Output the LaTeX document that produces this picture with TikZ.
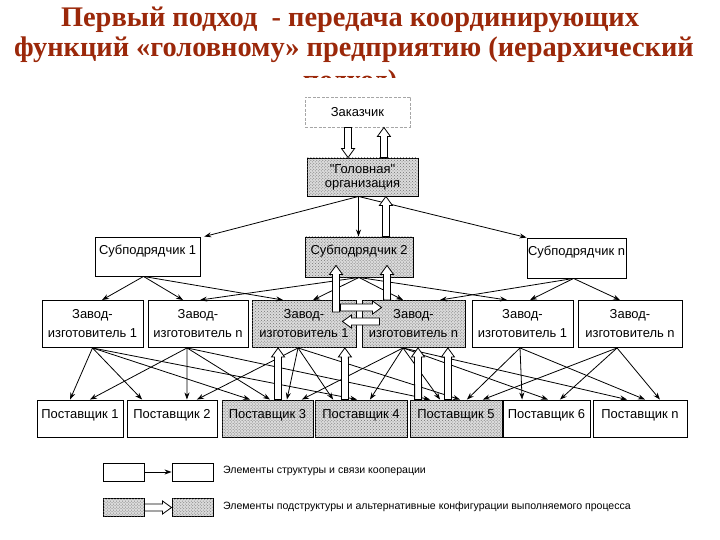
\documentclass[tikz,border=0pt]{standalone}
\usepackage{fontspec}
\setmainfont{Liberation Serif}
\newfontfamily\boxfont{Liberation Sans}
\usetikzlibrary{calc,patterns,arrows.meta}
\definecolor{titlered}{RGB}{155,40,10}
\begin{document}
\begin{tikzpicture}[x=1bp,y=-1bp,
  title/.style={anchor=base, inner sep=0, text=titlered, font=\bfseries\fontsize{28.5}{30}\selectfont},
  box/.style={draw, line width=0.9bp, inner sep=1bp, align=center, fill=white,
    font=\boxfont\fontsize{13}{19}\selectfont},
  dotbox/.style={box, fill=gray!28, postaction={pattern=crosshatch dots, pattern color=black!55}},
  subtext/.style={text height=9.5bp, text depth=14bp},
  ptext/.style={text height=9.5bp, text depth=9bp},
  zavbox/.style={minimum height=47bp},
  supbox/.style={minimum height=37bp},
  legbox/.style={minimum width=41bp, minimum height=18bp},
  arr/.style={-{Stealth[length=7bp,width=5bp]}, line width=0.8bp},
  hollow/.style={draw, fill=white, line width=0.8bp, to path={
    let \p1=(\tikztostart), \p2=(\tikztotarget), \p3=($(\p2)!9bp!(\p1)$) in
    ($(\p1)!3.5bp!90:(\p2)$) -- ($(\p3)!3.5bp!-90:(\p1)$) -- ($(\p3)!6.5bp!-90:(\p1)$)
    -- (\p2) -- ($(\p3)!6.5bp!90:(\p1)$) -- ($(\p3)!3.5bp!90:(\p1)$)
    -- ($(\p1)!3.5bp!-90:(\p2)$) -- cycle}},
  legtext/.style={anchor=west, inner sep=0, font=\boxfont\fontsize{10.6}{12}\selectfont}
]
\path[use as bounding box, fill=white] (0,0) rectangle (720,540);

% title
\node[title] (t1) at (350,27) {Первый подход\ \ - передача координирующих};
\node[title] (t2) at (354,57) {функций «головному» предприятию (иерархический};
\node[title] (t3) at (350,90) {подход)};
\fill[white] (0,78) rectangle (720,540);

% top
\node[box, draw=gray!70, dash pattern=on 3bp off 1.5bp, minimum width=105bp, minimum height=30bp] (zak) at (357.5,112) {Заказчик};
\node[dotbox, minimum width=111bp, minimum height=38bp, font=\boxfont\fontsize{13}{14}\selectfont] (gol) at (362.5,177) {"Головная"\\организация};

% subcontractors
\node[box, subtext, minimum width=105bp, minimum height=39bp] (sub1) at (147.5,256.5) {Субподрядчик 1};
\node[dotbox, subtext, minimum width=108bp, minimum height=40bp] (sub2) at (359,257) {Субподрядчик 2};
\node[box, subtext, minimum width=99bp, minimum height=40bp] (subn) at (576.5,258) {Субподрядчик n};

% plants
\node[box, zavbox, minimum width=101bp] (z1) at (92.5,324) {Завод-\\изготовитель 1};
\node[box, zavbox, minimum width=100bp] (z2) at (198,324) {Завод-\\изготовитель n};
\node[dotbox, zavbox, minimum width=104bp] (z3) at (304,324) {Завод-\\изготовитель 1};
\node[dotbox, zavbox, minimum width=103bp] (z4) at (413.5,324) {Завод-\\изготовитель n};
\node[box, zavbox, minimum width=101bp] (z5) at (522.5,324) {Завод-\\изготовитель 1};
\node[box, zavbox, minimum width=104bp] (z6) at (630,324) {Завод-\\изготовитель n};

% suppliers
\node[box, supbox, ptext, minimum width=86bp] (p1) at (80,418.5) {Поставщик 1};
\node[box, supbox, ptext, minimum width=90bp] (p2) at (172,418.5) {Поставщик 2};
\node[dotbox, supbox, ptext, minimum width=91bp] (p3) at (267.5,418.5) {Поставщик 3};
\node[dotbox, supbox, ptext, minimum width=92bp] (p4) at (361,418.5) {Поставщик 4};
\node[dotbox, supbox, ptext, minimum width=92bp] (p5) at (456,418.5) {Поставщик 5};
\node[box, supbox, ptext, minimum width=87bp] (p6) at (546.5,418.5) {Поставщик 6};
\node[box, supbox, ptext, minimum width=94bp] (pn) at (640,418.5) {Поставщик n};

% head organisation -> subcontractors
\draw[arr] ([xshift=-4]gol.south) -- ([xshift=57]sub1.north);
\draw[arr] ([xshift=-4]gol.south) -- ([xshift=-0.5]sub2.north);
\draw[arr] ([xshift=-4]gol.south) -- (subn.north west);

% subcontractors -> plants
\draw[arr] ([xshift=-4]sub1.south) -- ([xshift=9.5]z1.north);
\draw[arr] ([xshift=-4]sub1.south) -- ([xshift=-15]z2.north);
\draw[arr] ([xshift=-4]sub1.south) -- ([xshift=-21]z3.north);
\draw[arr] (sub2.south) -- ([xshift=2]z2.north);
\draw[arr] (sub2.south) -- ([xshift=9]z3.north);
\draw[arr] (sub2.south) -- ([xshift=-10.5]z4.north);
\draw[arr] (sub2.south) -- ([xshift=-15.5]z5.north);
\draw[arr] ([xshift=-3]subn.south) -- ([xshift=26.5]z4.north);
\draw[arr] ([xshift=-3]subn.south) -- ([xshift=7.5]z5.north);
\draw[arr] ([xshift=-3]subn.south) -- ([xshift=-10]z6.north);

% plants -> suppliers
\foreach \s/\sx/\t/\tx in {
  z1/0/p1/-10, z1/0/p2/-30, z1/0/p3/-17.5, z1/0/p4/-4,
  z2/-11/p1/10, z2/-11/p2/15, z2/-11/p3/2.5, z2/-11/p5/-26,
  z3/-6/p2/25, z3/-6/p3/19.5, z3/-6/p4/-28, z3/-6/p5/4,
  z4/-10.5/p3/34.5, z4/-10.5/p4/9, z4/-10.5/p5/-16, z4/-10.5/p6/1.5, z4/-10.5/pn/-13,
  z5/-2.5/p5/11, z5/-2.5/p6/-24.5, z5/-2.5/pn/5,
  z6/-13/p5/27, z6/-13/p6/13.5, z6/-13/pn/20}
  \draw[arr] ([xshift=\sx]\s.south) -- ([xshift=\tx]\t.north);

% hollow arrows
\path[hollow] ([xshift=-9.5]zak.south) to ([xshift=-14.5]gol.north);
\path[hollow] ([xshift=21.5]gol.north) to ([xshift=26.5]zak.south);
\path[hollow] ([xshift=27]sub2.north) to ([xshift=23.5]gol.south);
\path[hollow] ([shift={(32,12)}]z3.north) to ([shift={(-23,-12)}]sub2.south);
\path[hollow] ([xshift=-26.5]z4.north) to ([shift={(28,-12)}]sub2.south);
\path[hollow] ([shift={(-16,-16.5)}]z3.east) to ([shift={(20,-16.5)}]z4.west);
\path[hollow] ([shift={(18,-2.5)}]z4.west) to ([shift={(-14,-2.5)}]z3.east);
\path[hollow] ([xshift=10.5]p3.north) to ([xshift=-26]z3.south);
\path[hollow] ([xshift=-16]p4.north) to ([xshift=41]z3.south);
\path[hollow] ([xshift=-38]p5.north) to ([xshift=4.5]z4.south);
\path[hollow] ([xshift=-8]p5.north) to ([xshift=34.5]z4.south);

% legend
\node[box, legbox] (l1a) at (123.5,472) {};
\node[box, legbox] (l1b) at (192.5,472) {};
\draw[arr] (l1a.east) -- (l1b.west);
\node[legtext] (l1t) at (223,471) {Элементы структуры и связи кооперации};
\node[dotbox, legbox] (l2a) at (123.5,507.5) {};
\node[dotbox, legbox] (l2b) at (192.5,507.5) {};
\path[hollow] (l2a.east) to (l2b.west);
\node[legtext] (l2t) at (223,507) {Элементы подструктуры и альтернативные конфигурации выполняемого процесса};
\end{tikzpicture}
\end{document}
